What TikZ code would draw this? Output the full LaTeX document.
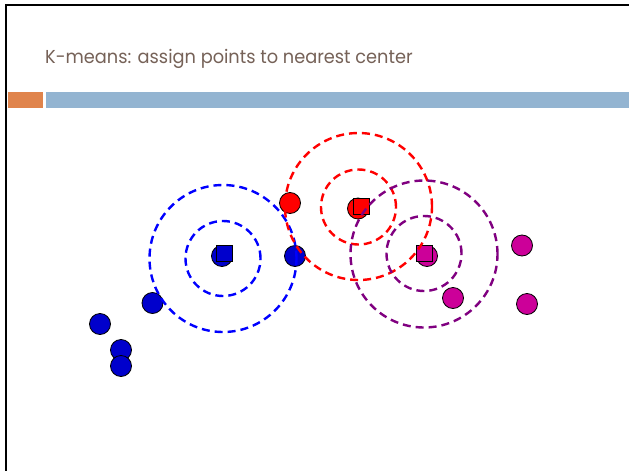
\documentclass[tikz,border=0pt]{standalone}
\usepackage{fontspec}
\setmainfont{Poppins}
\definecolor{titlec}{RGB}{118,98,88}
\definecolor{barorange}{RGB}{224,132,76}
\definecolor{barblue}{RGB}{147,180,209}
\definecolor{bluefill}{RGB}{0,0,204}
\definecolor{magfill}{RGB}{204,0,153}
\definecolor{purplec}{RGB}{128,0,128}
\tikzset{
  pt/.style={circle,draw=black,line width=0.8pt,minimum size=21pt,inner sep=0pt},
  bpt/.style={pt,fill=bluefill},
  rpt/.style={pt,fill=red},
  mpt/.style={pt,fill=magfill},
  ctr/.style={rectangle,draw=black,line width=0.8pt,minimum size=16pt,inner sep=0pt},
  ring/.style={circle,line width=2.4pt,dash pattern=on 8pt off 5pt,inner sep=0pt},
  bigring/.style={ring,minimum size=147pt},
  smallring/.style={ring,minimum size=75pt},
}
\begin{document}
\begin{tikzpicture}[x=1pt,y=-1pt]
\useasboundingbox (0,0) rectangle (629,471);
\fill[white] (0,0) rectangle (629,471);
% slide border
\draw[line width=2.2pt,black] (6,471) -- (6,5) -- (629,5);
% title
\node[anchor=base west,inner sep=0pt,text=titlec,font=\fontsize{18.7}{21}\selectfont] (title) at (45,63.5) {\scalebox{0.95}[1]{K-means: assign points to nearest center}};
% bars
\fill[barorange] (8,92) rectangle (43,108);
\fill[barblue] (46,92) rectangle (629,108);
% points
\node[bpt] (b1) at (222,256) {};
\node[bpt] (b2) at (295,256) {};
\node[bpt] (b3) at (152.5,303) {};
\node[bpt] (b4) at (100,324) {};
\node[bpt] (b5) at (121,350) {};
\node[bpt] (b6) at (121,366) {};
\node[rpt] (r1) at (290,203) {};
\node[rpt] (r2) at (358,208.5) {};
\node[mpt] (m1) at (427,256) {};
\node[mpt] (m2) at (453,298) {};
\node[mpt] (m3) at (522,245.5) {};
\node[mpt] (m4) at (527,304) {};
% centers
\node[ctr,fill=bluefill] (cb) at (224,253) {};
\node[ctr,fill=red] (cr) at (361,206) {};
\node[ctr,fill=magfill] (cm) at (424.7,253.7) {};
% rings
\node[bigring,draw=blue] (bo) at (223,258.5) {};
\node[smallring,draw=blue] (bi) at (223,258.5) {};
\node[bigring,draw=red] (ro) at (358.5,206.5) {};
\node[smallring,draw=red] (ri) at (358.5,207) {};
\node[bigring,draw=purplec] (po) at (424,254) {};
\node[smallring,draw=purplec] (pi) at (424,253.5) {};
\end{tikzpicture}
\end{document}
